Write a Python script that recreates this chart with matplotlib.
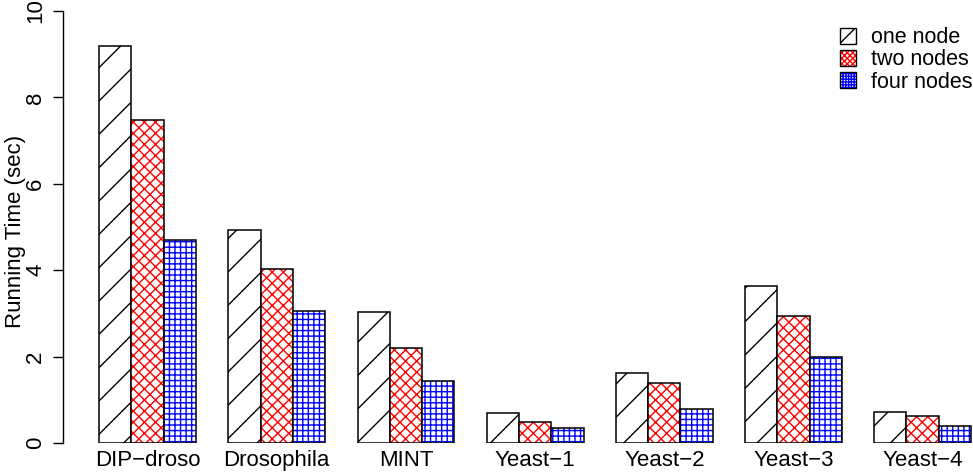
import numpy as np
import matplotlib
matplotlib.use("Agg")
import matplotlib.pyplot as plt
from matplotlib.patches import Patch
from matplotlib.legend_handler import HandlerTuple

plt.rcParams["font.family"] = ["Liberation Sans", "DejaVu Sans"]
plt.rcParams["hatch.linewidth"] = 1.0

datasets = ["DIP\u2212droso", "Drosophila", "MINT", "Yeast\u22121", "Yeast\u22122", "Yeast\u22123", "Yeast\u22124"]
one_node = [9.19, 4.93, 3.04, 0.69, 1.63, 3.63, 0.72]
two_nodes = [7.48, 4.03, 2.20, 0.49, 1.39, 2.94, 0.62]
four_nodes = [4.70, 3.06, 1.44, 0.35, 0.79, 1.99, 0.39]
series_names = ["one node", "two nodes", "four nodes"]

styles = [
    dict(hatch="/", hcolor="black"),
    dict(hatch="xxx", hcolor="red"),
    dict(hatch="+++", hcolor="blue"),
]


def main():
    fig = plt.figure(figsize=(9.73, 4.75), dpi=100)
    ax = fig.add_axes([63 / 973, 32 / 475, 910 / 973, 432 / 475])

    starts = 1 + 4 * np.arange(len(datasets))
    for j, (vals, st) in enumerate(zip([one_node, two_nodes, four_nodes], styles)):
        x = starts + j
        ax.bar(x, vals, width=1, align="edge", color="white",
               edgecolor=st["hcolor"], hatch=st["hatch"], linewidth=0)
        ax.bar(x, vals, width=1, align="edge", color="none",
               edgecolor="black", linewidth=1.1)

    ax.set_xlim(-0.12, 28.06)
    ax.set_ylim(0, 10)
    ax.set_xticks(starts + 1.5)
    ax.set_xticklabels(datasets, fontsize=16)
    ax.tick_params(axis="x", length=0, pad=5)
    ax.set_yticks([0, 2, 4, 6, 8, 10])
    ax.tick_params(axis="y", length=7, width=1, labelsize=16, pad=5)
    for lbl in ax.get_yticklabels():
        lbl.set_rotation(90)
        lbl.set_va("center")
    ax.set_ylabel("Running Time (sec)", fontsize=16, va="center")
    ax.yaxis.set_label_coords(-0.052, 0.49)

    for s in ["top", "right", "bottom"]:
        ax.spines[s].set_visible(False)
    ax.spines["left"].set_linewidth(1)

    handles = [(Patch(facecolor="white", edgecolor=st["hcolor"], hatch=st["hatch"] * 2, linewidth=0),
                Patch(facecolor="none", edgecolor="black", linewidth=1))
               for st in styles]
    ax.legend(handles, series_names, loc="upper right", frameon=False,
              fontsize=15.5, handlelength=0.75, handleheight=0.75,
              handletextpad=0.7, labelspacing=0.05, borderaxespad=0.0,
              borderpad=0.0,
              handler_map={tuple: HandlerTuple(ndivide=1)},
              bbox_to_anchor=(0.9995, 0.962))

    fig.savefig("out.png", dpi=100)
    plt.close(fig)


if __name__ == "__main__":
    main()
